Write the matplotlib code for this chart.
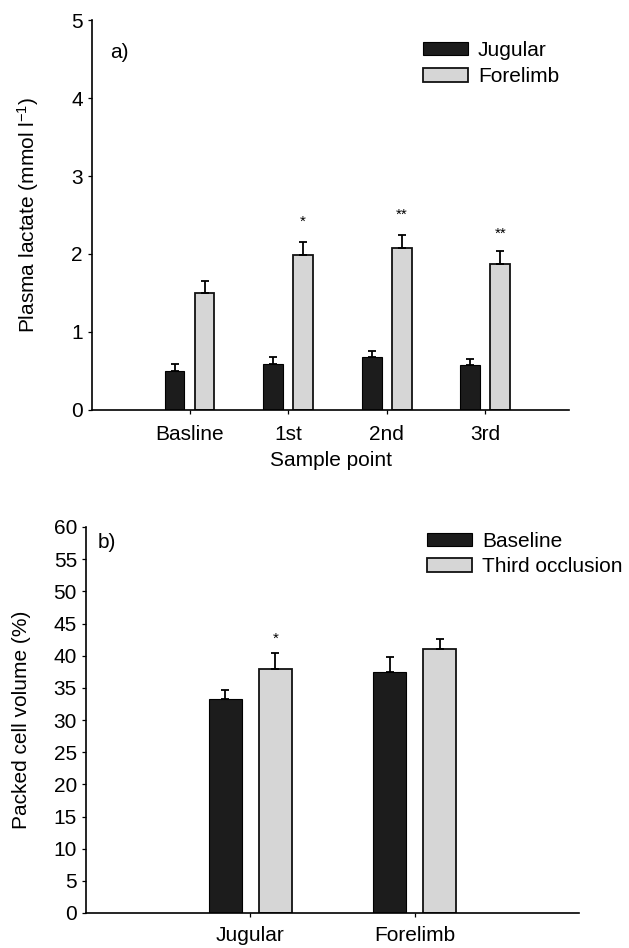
import matplotlib
matplotlib.use("Agg")
import matplotlib.pyplot as plt
import numpy as np

plt.rcParams['font.family'] = ['Liberation Sans', 'DejaVu Sans']
plt.rcParams['mathtext.fontset'] = 'custom'
plt.rcParams['mathtext.rm'] = 'Liberation Sans'
plt.rcParams['mathtext.it'] = 'Liberation Sans'

# Panel a data
sample_points = ["Basline", "1st", "2nd", "3rd"]
jugular_lactate = [0.50, 0.59, 0.68, 0.58]
jugular_lactate_err = [0.085, 0.085, 0.08, 0.08]
forelimb_lactate = [1.50, 1.99, 2.08, 1.87]
forelimb_lactate_err = [0.15, 0.16, 0.16, 0.17]
lactate_marks = ["", "*", "**", "**"]
lactate_mark_y = [None, 2.41, 2.50, 2.26]

# Panel b data
sites = ["Jugular", "Forelimb"]
baseline_pcv = [33.3, 37.4]
baseline_pcv_err = [1.3, 2.4]
third_pcv = [38.0, 41.0]
third_pcv_err = [2.4, 1.6]
pcv_marks = ["*", ""]
pcv_mark_y = [42.7, None]

dark = "#1c1c1c"
light = "#d6d6d6"
FS = 15

fig = plt.figure(figsize=(6.29, 9.48), dpi=100)

W, H = 629, 948
def axes_px(x0, x1, ytop, ybot):
    return fig.add_axes([x0 / W, 1 - ybot / H, (x1 - x0) / W, (ybot - ytop) / H])

bw = 0.2
off = 0.152
ekw = dict(ecolor="black", elinewidth=1.3, capsize=3, capthick=1.3)

def style(ax):
    ax.spines["top"].set_visible(False)
    ax.spines["right"].set_visible(False)
    ax.spines["left"].set_linewidth(1.2)
    ax.spines["bottom"].set_linewidth(1.2)
    ax.tick_params(axis="both", labelsize=FS, direction="out", length=3, width=0.9)

# ---------- Panel a ----------
ax1 = axes_px(92, 569, 20, 410)
x = np.arange(len(sample_points))
ax1.bar(x - off, jugular_lactate, bw, color=dark, edgecolor="black", linewidth=0.8,
        label="Jugular", yerr=[np.zeros(4), jugular_lactate_err], error_kw=ekw)
ax1.bar(x + off, forelimb_lactate, bw, color=light, edgecolor="#111111", linewidth=1.3,
        label="Forelimb", yerr=[np.zeros(4), forelimb_lactate_err], error_kw=ekw)
for xi, m, my in zip(x, lactate_marks, lactate_mark_y):
    if m:
        ax1.text(xi + off, my, m, ha="center", va="center", fontsize=11)
ax1.set_xlim(-0.99, 3.85)
ax1.set_ylim(0, 5)
ax1.set_yticks(range(0, 6))
ax1.set_xticks(x)
ax1.set_xticklabels(sample_points)
style(ax1)
ax1.tick_params(axis="x", pad=8)
ax1.set_ylabel("Plasma lactate (mmol l$^{-1}$)", fontsize=FS)
ax1.yaxis.set_label_coords(-0.107, 0.5)
ax1.set_xlabel("Sample point", fontsize=FS)
ax1.xaxis.set_label_coords(0.5, -0.105)
ax1.text(110 / W, 1 - 53 / H, "a)", transform=fig.transFigure, fontsize=FS, va="center")
ax1.legend(loc="upper left", bbox_to_anchor=(423 / W, 1 - 41 / H), bbox_transform=fig.transFigure,
           frameon=False, fontsize=FS, borderpad=0, borderaxespad=0, handlelength=2.16,
           handleheight=0.63, handletextpad=0.48, labelspacing=0.35)

# ---------- Panel b ----------
ax2 = axes_px(86, 579, 527, 913)
x2 = np.arange(len(sites))
ax2.bar(x2 - off, baseline_pcv, bw, color=dark, edgecolor="black", linewidth=0.8,
        label="Baseline", yerr=[np.zeros(2), baseline_pcv_err], error_kw=ekw)
ax2.bar(x2 + off, third_pcv, bw, color=light, edgecolor="#111111", linewidth=1.3,
        label="Third occlusion", yerr=[np.zeros(2), third_pcv_err], error_kw=ekw)
for xi, m, my in zip(x2, pcv_marks, pcv_mark_y):
    if m:
        ax2.text(xi + off, my, m, ha="center", va="center", fontsize=11)
ax2.set_xlim(-1.0, 2.0)
ax2.set_ylim(0, 60)
ax2.set_yticks(range(0, 61, 5))
ax2.set_xticks(x2)
ax2.set_xticklabels(sites)
style(ax2)
ax2.tick_params(axis="x", pad=6.5)
ax2.set_ylabel("Packed cell volume (%)", fontsize=FS)
ax2.yaxis.set_label_coords(-0.112, 0.5)
ax2.text(98 / W, 1 - 543 / H, "b)", transform=fig.transFigure, fontsize=FS, va="center")
ax2.legend(loc="upper left", bbox_to_anchor=(427 / W, 1 - 532 / H), bbox_transform=fig.transFigure,
           frameon=False, fontsize=FS, borderpad=0, borderaxespad=0, handlelength=2.16,
           handleheight=0.63, handletextpad=0.48, labelspacing=0.3)

fig.savefig("out.png", dpi=100)
